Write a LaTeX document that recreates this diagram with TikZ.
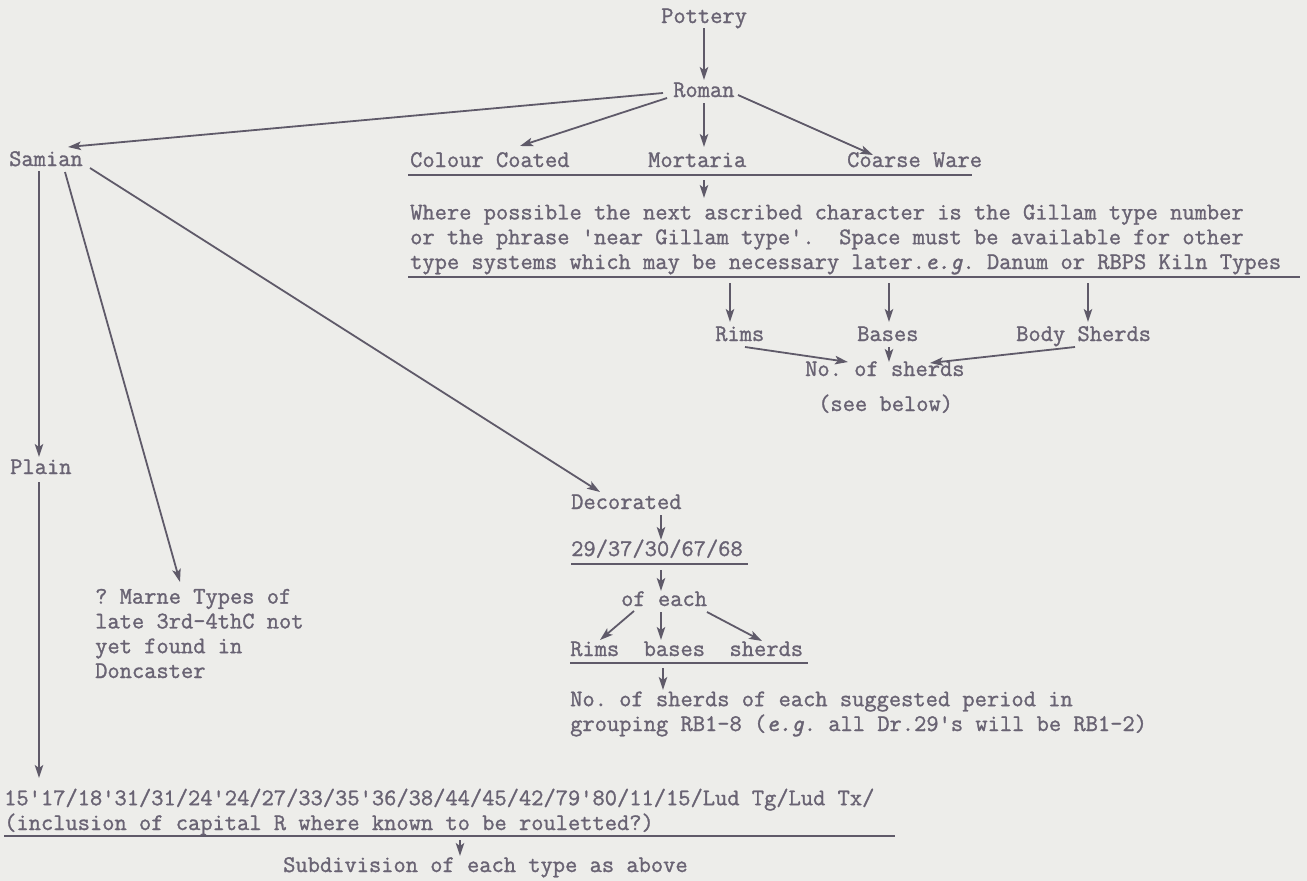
\documentclass[tikz,border=0pt]{standalone}
\usepackage{fontspec}
\newfontfamily\tw{Latin Modern Mono}[FakeBold=1.2]
\usetikzlibrary{arrows.meta,calc}
\definecolor{txt}{RGB}{105,99,115}
\definecolor{linec}{RGB}{95,90,105}
\definecolor{paper}{RGB}{237,237,234}
\tikzset{
  lbl/.style={anchor=base west,inner sep=0pt,text=txt,align=left,
    font=\tw\fontsize{23.8pt}{24.8pt}\selectfont\frenchspacing},
  arr/.style={draw=linec,line width=1.8pt,-{Stealth[length=13pt,width=8.5pt,inset=3pt]}},
  uline/.style={draw=linec,line width=1.8pt}
}
\begin{document}
\begin{tikzpicture}[x=1pt,y=-1pt]
\fill[paper] (0,0) rectangle (1307,881);
\useasboundingbox (0,0) rectangle (1307,881);
% nodes (multi-line nodes are placed by the baseline of their last line)
\node[lbl] (pottery) at (661,23) {Pottery};
\node[lbl] (roman) at (673,97) {Roman};
\node[lbl] (samian) at (9,166) {Samian};
\node[lbl] (colour) at (410,167) {Colour Coated};
\node[lbl] (mortaria) at (648,167) {Mortaria};
\node[lbl] (coarse) at (847,167) {Coarse Ware};
\node[lbl] (gillam) at (410,269) {Where possible the next ascribed character is the Gillam type number\\or the phrase 'near Gillam type'.\ \ Space must be available for other\\type systems which may be necessary later.\textit{e.g}. Danum or RBPS Kiln Types};
\node[lbl] (rims) at (715,341) {Rims};
\node[lbl] (bases) at (857,341) {Bases};
\node[lbl] (body) at (1016,341) {Body Sherds};
\node[lbl] (nos) at (805,376) {No. of sherds};
\node[lbl] (below) at (818,411) {(see below)};
\node[lbl] (plain) at (10,474) {Plain};
\node[lbl] (marne) at (95,678) {? Marne Types of\\late 3rd-4thC not\\yet found in\\Doncaster};
\node[lbl] (decorated) at (571,509) {Decorated};
\node[lbl] (dtypes) at (571,556) {29/37/30/67/68};
\node[lbl] (ofeach) at (621,606) {of each};
\node[lbl] (rbs) at (570,656) {Rims\ \ bases\ \ sherds};
\node[lbl] (nsp) at (570,731) {No. of sherds of each suggested period in\\grouping RB1-8 (\textit{e.g}. all Dr.29's will be RB1-2)};
\node[lbl] (types) at (4,830) {15'17/18'31/31/24'24/27/33/35'36/38/44/45/42/79'80/11/15/Lud Tg/Lud Tx/\\(inclusion of capital R where known to be rouletted?)};
\node[lbl] (subdiv) at (283,872) {Subdivision of each type as above};
% connectors
\draw[arr] ($(pottery.base west)+(43,5)$) -- ($(roman.base west)+(31,-17)$);
\draw[arr] ($(roman.base west)+(-10,-4)$) -- ($(samian.base west)+(59,-19)$);
\draw[arr] ($(roman.base west)+(-6,1)$) -- ($(colour.base west)+(110,-21)$);
\draw[arr] ($(roman.base west)+(31,6)$) -- ($(mortaria.base west)+(56,-20)$);
\draw[arr] ($(roman.base west)+(65,-2)$) -- ($(coarse.base west)+(26,-12)$);
\draw[uline] ($(colour.base west)+(-2,8)$) -- ($(coarse.base west)+(125,8)$);
\draw[arr] ($(colour.base west)+(294,13)$) -- ($(gillam.base west)+(294,-71)$);
\draw[uline] ($(gillam.base west)+(-2,8)$) -- ($(gillam.base west)+(890,8)$);
\draw[arr] ($(gillam.base west)+(320,14)$) -- ($(rims.base west)+(15,-19)$);
\draw[arr] ($(gillam.base west)+(479,14)$) -- ($(bases.base west)+(32,-19)$);
\draw[arr] ($(gillam.base west)+(678,14)$) -- ($(body.base west)+(72,-19)$);
\draw[arr] ($(rims.base west)+(30,6)$) -- ($(nos.base west)+(43,-14)$);
\draw[arr] ($(bases.base west)+(32,6)$) -- ($(nos.base west)+(84,-14)$);
\draw[arr] ($(body.base west)+(59,6)$) -- ($(nos.base west)+(125,-13)$);
\draw[arr] ($(samian.base west)+(30,5)$) -- ($(plain.base west)+(29,-17)$);
\draw[arr] ($(plain.base west)+(29,8)$) -- ($(types.base west)+(35,-52)$);
\draw[arr] ($(samian.base west)+(56,6)$) -- ($(marne.base west)+(85,-96)$);
\draw[arr] ($(samian.base west)+(81,2)$) -- ($(decorated.base west)+(29,-17)$);
\draw[arr] ($(decorated.base west)+(90,6)$) -- ($(dtypes.base west)+(90,-16)$);
\draw[uline] ($(dtypes.base west)+(0,8)$) -- ($(dtypes.base west)+(177,8)$);
\draw[arr] ($(dtypes.base west)+(90,14)$) -- ($(ofeach.base west)+(40,-15)$);
\draw[arr] ($(ofeach.base west)+(13,5)$) -- ($(rbs.base west)+(30,-16)$);
\draw[arr] ($(ofeach.base west)+(40,6)$) -- ($(rbs.base west)+(91,-16)$);
\draw[arr] ($(ofeach.base west)+(86,6)$) -- ($(rbs.base west)+(192,-15)$);
\draw[uline] ($(rbs.base west)+(0,7)$) -- ($(rbs.base west)+(238,7)$);
\draw[arr] ($(rbs.base west)+(93,12)$) -- ($(nsp.base west)+(93,-41)$);
\draw[uline] ($(types.base west)+(0,6)$) -- ($(types.base west)+(891,6)$);
\draw[arr] ($(types.base west)+(456,10)$) -- ($(subdiv.base west)+(177,-16)$);
\end{tikzpicture}
\end{document}
